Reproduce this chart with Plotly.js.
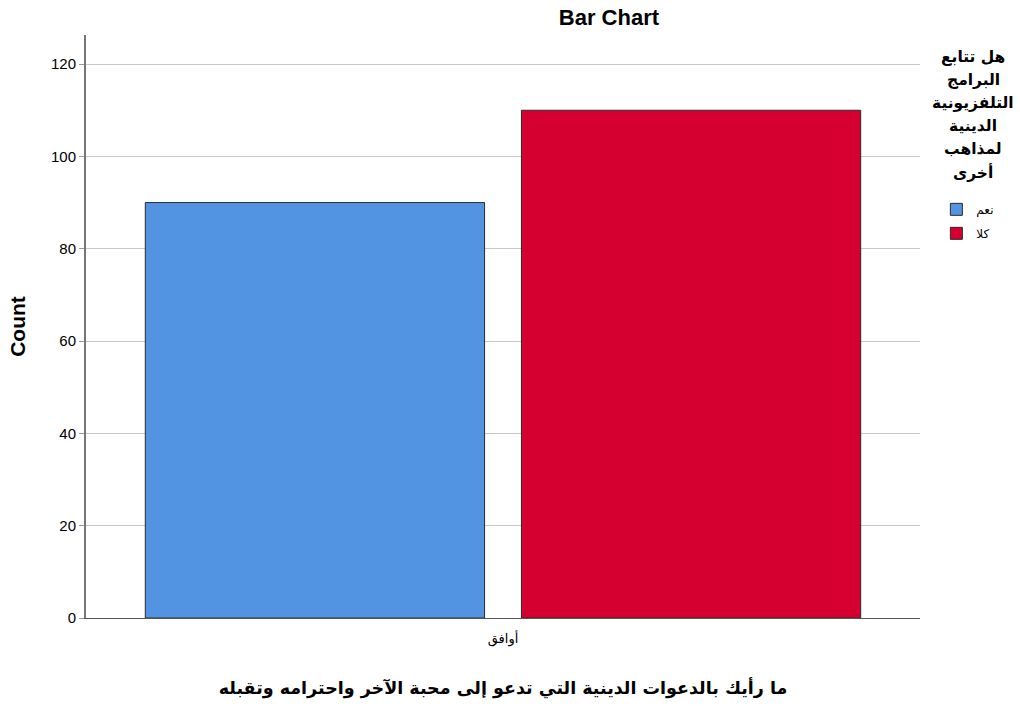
<!DOCTYPE html>
<html>
<head>
<meta charset="utf-8">
<script src="https://cdn.plot.ly/plotly-3.0.1.min.js"></script>
<style>html,body{margin:0;padding:0;background:#fff;}#chart{width:1020px;height:706px;}</style>
</head>
<body>
<div id="chart"></div>
<script>
const categories = ["أوافق"];
const seriesNames = ["نعم", "كلا"];
const seriesValues = [[90], [110]];
const seriesColors = ["#5294E2", "#D5002F"];
const yTicks = [0, 20, 40, 60, 80, 100, 120];
const chartTitle = "Bar Chart";
const xTitle = "ما رأيك بالدعوات الدينية التي تدعو إلى محبة الآخر واحترامه وتقبله";
const yTitle = "Count";
const legendTitleLines = ["هل تتابع", "البرامج", "التلفزيونية", "الدينية", "لمذاهب", "أخرى"];

const FONT = "Liberation Sans, Arial, DejaVu Sans, sans-serif";
const AFONT = "DejaVu Sans, sans-serif";

const traces = seriesNames.map((name, i) => ({
  type: "bar",
  name: name,
  x: categories,
  y: seriesValues[i],
  legendgroup: "g" + i,
  marker: {color: seriesColors[i], line: {color: "#2b2b2b", width: 1}},
  hoverinfo: "none"
}));

// legend-title lines placed in paper coordinates, one line per annotation
const LINE_STEP = 23 / 583;
const titleAnnotations = legendTitleLines.map((line, i) => ({
  text: "<b>" + line + "</b>",
  xref: "paper", yref: "paper",
  x: 1.064, xanchor: "center",
  y: (618 - 57) / 583 - i * LINE_STEP, yanchor: "middle",
  showarrow: false,
  font: {size: 15.5, family: AFONT, color: "#000"}
}));

const layout = {
  width: 1020, height: 706,
  margin: {l: 86, r: 100, t: 35, b: 88},
  paper_bgcolor: "#fff", plot_bgcolor: "#fff",
  font: {family: FONT, color: "#000", size: 12},
  barmode: "group",
  bargap: 0.098,
  bargroupgap: 0.098,
  title: {text: "<b>" + chartTitle + "</b>", x: 0.597, xref: "container", xanchor: "center", y: 0.975, yref: "container", yanchor: "middle", font: {size: 22, family: FONT}},
  xaxis: {
    type: "category",
    showgrid: false,
    showline: true, linecolor: "#555", linewidth: 1,
    ticks: "", ticklabelstandoff: 8, tickfont: {size: 13, family: AFONT},
    title: {text: "<b>" + xTitle + "</b>", font: {size: 17.5, family: AFONT}, standoff: 36},
    fixedrange: true
  },
  yaxis: {
    range: [0, 126.3],
    tickvals: yTicks,
    showgrid: true, gridcolor: "#c8c8c8", gridwidth: 1,
    zeroline: false,
    showline: true, linecolor: "#777", linewidth: 2,
    ticks: "outside", ticklen: 5, tickcolor: "#999",
    tickfont: {size: 15, family: FONT},
    title: {text: "<b>" + yTitle + "</b>", font: {size: 21, family: FONT}, standoff: 20},
    fixedrange: true
  },
  annotations: titleAnnotations,
  showlegend: true,
  legend: {
    xref: "container", yref: "container",
    x: 0.918, xanchor: "left", y: 0.724, yanchor: "top",
    font: {size: 12, family: AFONT},
    traceorder: "grouped",
    tracegroupgap: 5,
    itemwidth: 30,
    bgcolor: "rgba(0,0,0,0)"
  }
};

Plotly.newPlot("chart", traces, layout, {staticPlot: true, displayModeBar: false});
</script>
</body>
</html>
